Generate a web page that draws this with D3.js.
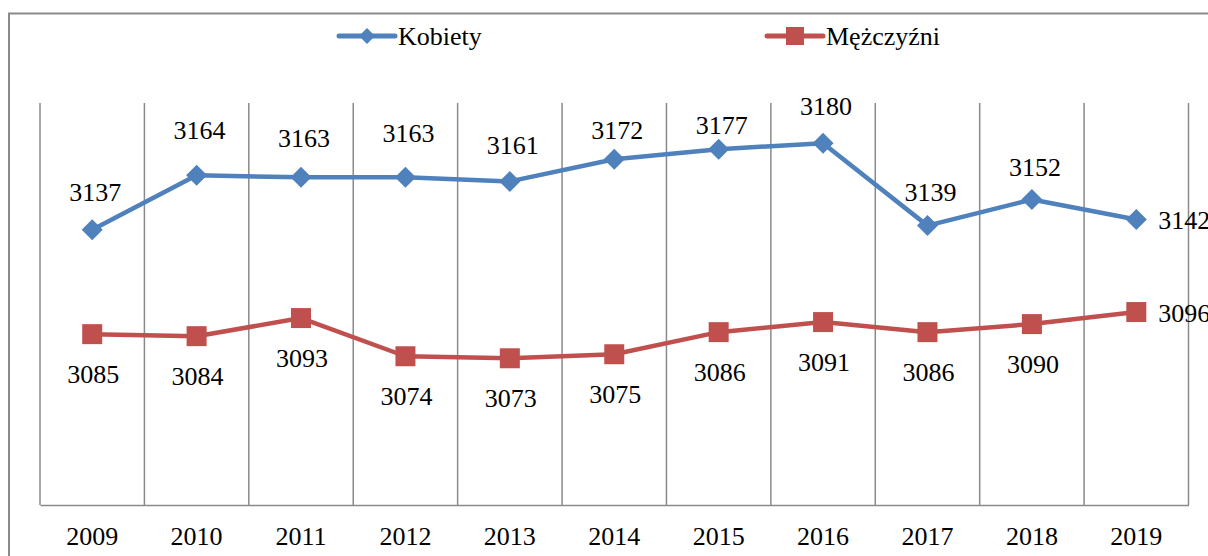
<!DOCTYPE html>
<html>
<head>
<meta charset="utf-8">
<script src="https://cdn.jsdelivr.net/npm/d3@7"></script>
<style>
  body { margin: 0; background: #fff; overflow: hidden; }
  svg { display: block; }
</style>
</head>
<body>
<script>
'use strict';

// chart data
const years = ['2009', '2010', '2011', '2012', '2013', '2014', '2015', '2016', '2017', '2018', '2019'];
const kobiety = [3137, 3164, 3163, 3163, 3161, 3172, 3177, 3180, 3139, 3152, 3142];
const mezczyzni = [3085, 3084, 3093, 3074, 3073, 3075, 3086, 3091, 3086, 3090, 3096];
const seriesNames = ['Kobiety', 'Mężczyźni'];

// label lift above the blue points (labels were placed by hand in the original)
const kobietyLift = [29, 36, 30, 35, 27, 20, 15, 28, 25, 23, 0];

const W = 1208, H = 556;
const FONT = 'Liberation Serif, Times New Roman, serif';
const BLUE = '#4F81BD', RED = '#C0504D', GRID = '#8a8a8a';

const svg = d3.select('body')
  .append('svg')
  .attr('width', W)
  .attr('height', H)
  .attr('font-family', FONT)
  .attr('font-size', 26);

// marker shapes
function diamond(r) {
  return `M0,${-r}L${r},0L0,${r}L${-r},0Z`;
}
function square(r) {
  return `M${-r},${-r}H${r}V${r}H${-r}Z`;
}

// outer chart frame (runs off the right and bottom edge)
svg.append('rect')
  .attr('x', 9)
  .attr('y', 13.5)
  .attr('width', W + 20)
  .attr('height', H + 20)
  .attr('fill', 'none')
  .attr('stroke', GRID)
  .attr('stroke-width', 2);

// scales
const x = d3.scaleBand()
  .domain(years)
  .range([40, 1188.5])
  .padding(0);

const y = d3.scaleLinear()
  .domain([3000, 3200])
  .range([505, 103]);

const cx = (d, i) => x(years[i]) + x.bandwidth() / 2;

// vertical gridlines between categories
const bounds = years.map((yr) => x(yr)).concat([x.range()[1]]);
svg.append('g')
  .selectAll('line')
  .data(bounds)
  .enter()
  .append('line')
    .attr('x1', (d) => d)
    .attr('x2', (d) => d)
    .attr('y1', y(3200))
    .attr('y2', y(3000))
    .attr('stroke', GRID)
    .attr('stroke-width', 1.5);

// category axis at the bottom
const xAxis = d3.axisBottom(x).tickSize(0).tickPadding(0);
const gx = svg.append('g')
  .attr('transform', `translate(0, ${y(3000)})`)
  .call(xAxis)
  .attr('font-family', FONT)
  .attr('font-size', 26);
gx.select('.domain')
  .attr('stroke', GRID)
  .attr('stroke-width', 1.5);
gx.selectAll('text')
  .attr('dy', null)
  .attr('y', 40)
  .attr('fill', '#000');

// draw one series
function drawSeries(values, color, shape) {
  const line = d3.line()
    .x(cx)
    .y((d) => y(d));

  svg.append('path')
    .datum(values)
    .attr('d', line)
    .attr('fill', 'none')
    .attr('stroke', color)
    .attr('stroke-width', 4.5)
    .attr('stroke-linejoin', 'round')
    .attr('stroke-linecap', 'round');

  svg.append('g')
    .selectAll('path')
    .data(values)
    .enter()
    .append('path')
      .attr('d', shape)
      .attr('transform', (d, i) => `translate(${cx(d, i)}, ${y(d)})`)
      .attr('fill', color);
}

drawSeries(kobiety, BLUE, diamond(10.5));
drawSeries(mezczyzni, RED, square(10));

// data labels
const last = years.length - 1;

svg.append('g')
  .attr('font-family', FONT)
  .attr('font-size', 26)
  .selectAll('text')
  .data(kobiety)
  .enter()
  .append('text')
    .attr('x', (d, i) => i === last ? cx(d, i) + 22 : cx(d, i) + 3)
    .attr('y', (d, i) => i === last ? y(d) + 9 : y(d) - kobietyLift[i])
    .attr('text-anchor', (d, i) => i === last ? 'start' : 'middle')
    .text((d) => d);

svg.append('g')
  .attr('font-family', FONT)
  .attr('font-size', 26)
  .selectAll('text')
  .data(mezczyzni)
  .enter()
  .append('text')
    .attr('x', (d, i) => i === last ? cx(d, i) + 22 : cx(d, i) + 1)
    .attr('y', (d, i) => i === last ? y(d) + 10 : y(d) + 49)
    .attr('text-anchor', (d, i) => i === last ? 'start' : 'middle')
    .text((d) => d);

// legend
const legendItems = [
  { name: seriesNames[0], color: BLUE, shape: diamond(8), x0: 339 },
  { name: seriesNames[1], color: RED, shape: square(9), x0: 767 }
];

const lg = svg.append('g')
  .attr('font-family', FONT)
  .attr('font-size', 26)
  .selectAll('g')
  .data(legendItems)
  .enter()
  .append('g')
    .attr('transform', (d) => `translate(${d.x0}, 36)`);

lg.append('line')
  .attr('x1', 0)
  .attr('x2', 56)
  .attr('stroke', (d) => d.color)
  .attr('stroke-width', 5)
  .attr('stroke-linecap', 'round');

lg.append('path')
  .attr('d', (d) => d.shape)
  .attr('transform', 'translate(28, 0)')
  .attr('fill', (d) => d.color);

lg.append('text')
  .attr('x', 59)
  .attr('y', 8.5)
  .text((d) => d.name);
</script>
</body>
</html>
